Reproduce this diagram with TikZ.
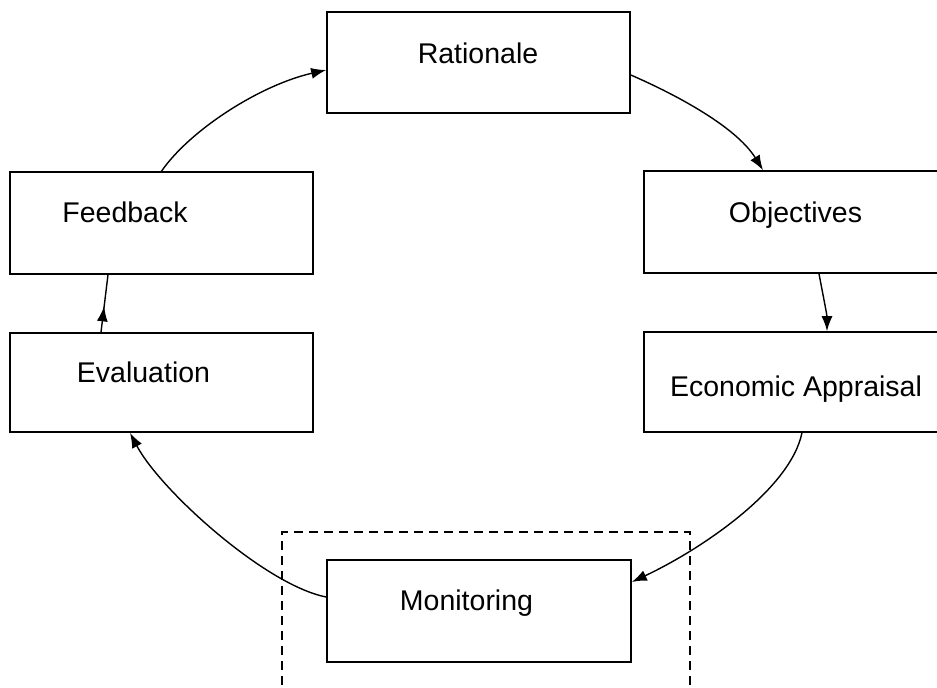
\documentclass[tikz,border=0pt]{standalone}
\usepackage{fontspec}
\setmainfont{Liberation Sans}
\usetikzlibrary{arrows.meta,decorations.markings}
\begin{document}
\begin{tikzpicture}[x=1pt,y=-1pt,
  box/.style={draw=black,line width=1.6pt,rectangle,inner sep=0pt},
  lbl/.style={anchor=base,inner sep=0pt,font=\fontsize{28.5}{34}\selectfont},
  conn/.style={line width=1.4pt,-{Latex[length=15pt,width=11pt]}},
  midarrow/.style={line width=1.4pt,postaction={decorate},
    decoration={markings,mark=at position 0.45 with {\arrow{Latex[length=15pt,width=11pt]}}}},
  frame/.style={draw=black,line width=1.6pt,dash pattern=on 9pt off 6pt}]
\useasboundingbox (0,0) rectangle (937,688);
\clip (0,0) rectangle (937,688);
% boxes
\node[box,minimum width=303pt,minimum height=101pt] (rat) at (478.5,62.5) {};
\node[box,minimum width=303pt,minimum height=102pt] (fb) at (161.5,223) {};
\node[box,minimum width=303pt,minimum height=99pt] (ev) at (161.5,382.5) {};
\node[box,minimum width=306pt,minimum height=102pt] (obj) at (797,222) {};
\node[box,minimum width=306pt,minimum height=100pt] (ea) at (797,382) {};
\node[box,minimum width=304pt,minimum height=102pt] (mon) at (479,611) {};
% dashed frame
\draw[frame] (282,700) -- (282,532) -- (690,532) -- (690,700);
% labels
\node[lbl] (tRat) at (478,63) {Rationale};
\node[lbl] (tFb) at (125,222) {Feedback};
\node[lbl] (tEv) at (143.5,382) {Evaluation};
\node[lbl] (tObj) at (795.5,222) {Objectives};
\node[lbl] (tEa) at (796,396) {Economic Appraisal};
\node[lbl] (tMon) at (466.5,610) {Monitoring};
% connectors
\draw[conn] (fb.north) .. controls (190,130) and (260,85) .. ([yshift=-7.5pt]rat.west);
\draw[conn] ([yshift=-12.5pt]rat.east) .. controls (670,92) and (735,125) .. ([xshift=-34pt]obj.north);
\draw[conn] ([xshift=22pt]obj.south) .. controls (823,295) and (827,315) .. ([xshift=30pt]ea.north);
\draw[conn] ([xshift=5pt]ea.south) .. controls (790,490) and (700,550) .. ([yshift=29pt]mon.east);
\draw[conn] ([yshift=14pt]mon.west) .. controls (265,585) and (160,490) .. ([xshift=-31.5pt]ev.south);
\draw[midarrow] ([xshift=-60.5pt]ev.north) -- ([xshift=-53.5pt]fb.south);
\end{tikzpicture}
\end{document}
